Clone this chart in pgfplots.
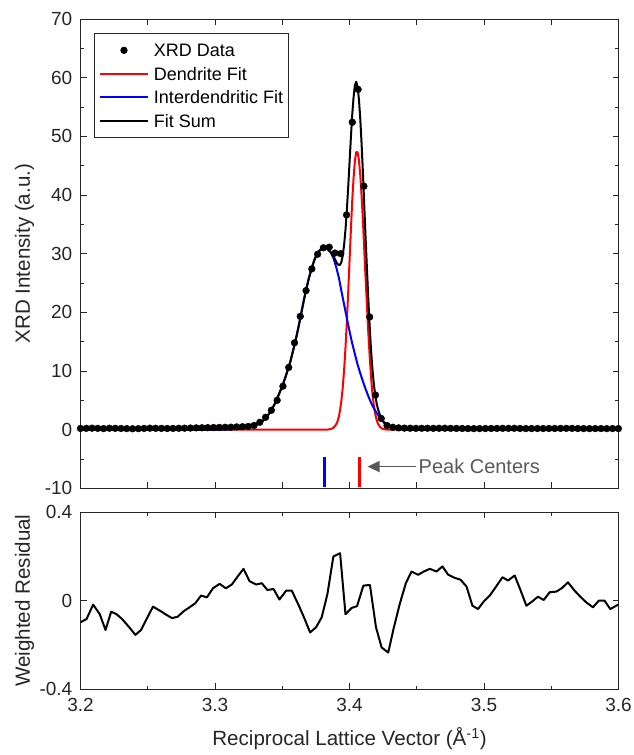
\documentclass[border=0pt]{standalone}
\usepackage{pgfplots}
\pgfplotsset{compat=1.18}
\usepackage{pgfplotstable}
\usepackage{fontspec}
\setmainfont{Liberation Sans}
\usetikzlibrary{arrows.meta}
\definecolor{axgray}{RGB}{38,38,38}
\definecolor{anngray}{RGB}{89,89,89}
\definecolor{mred}{RGB}{255,0,0}
\definecolor{mblue}{RGB}{0,0,255}
\pgfplotsset{
  dotlegend/.style={legend image code/.code={\draw[##1, mark repeat=2, mark phase=2] plot coordinates {(0pt,0pt) (24pt,0pt) (48pt,0pt)};}},
  linelegend/.style={legend image code/.code={\draw[##1] (0pt,0pt) -- (48pt,0pt);}},
}

\pgfplotstableread{
x y
3.2000 0.20
3.2043 0.22
3.2086 0.25
3.2129 0.22
3.2172 0.18
3.2215 0.24
3.2258 0.22
3.2301 0.20
3.2344 0.17
3.2387 0.15
3.2430 0.17
3.2473 0.21
3.2516 0.25
3.2559 0.23
3.2602 0.21
3.2645 0.20
3.2688 0.21
3.2731 0.23
3.2774 0.25
3.2817 0.27
3.2860 0.30
3.2903 0.32
3.2946 0.34
3.2989 0.36
3.3032 0.38
3.3075 0.40
3.3118 0.42
3.3161 0.46
3.3204 0.50
3.3247 0.55
3.3290 0.70
3.3333 1.25
3.3376 2.10
3.3419 3.30
3.3462 5.00
3.3505 7.40
3.3548 10.6
3.3591 14.8
3.3634 19.3
3.3677 23.7
3.3720 27.4
3.3763 29.9
3.3806 31.0
3.3849 31.1
3.3892 30.1
3.3935 30.0
3.3978 36.6
3.4021 52.4
3.4064 58.0
3.4107 41.5
3.4150 19.2
3.4193 5.9
3.4236 1.9
3.4279 0.70
3.4322 0.40
3.4365 0.30
3.4408 0.26
3.4451 0.24
3.4494 0.22
3.4537 0.23
3.4580 0.24
3.4623 0.22
3.4666 0.23
3.4709 0.24
3.4752 0.22
3.4795 0.21
3.4838 0.20
3.4881 0.18
3.4924 0.17
3.4967 0.18
3.5010 0.19
3.5053 0.20
3.5096 0.21
3.5139 0.22
3.5182 0.22
3.5225 0.23
3.5268 0.20
3.5311 0.18
3.5354 0.18
3.5397 0.19
3.5440 0.19
3.5483 0.20
3.5526 0.20
3.5569 0.21
3.5612 0.22
3.5655 0.21
3.5698 0.19
3.5741 0.18
3.5784 0.17
3.5827 0.18
3.5870 0.18
3.5913 0.17
3.5956 0.18
3.5999 0.18
}\xrddata

\pgfplotstableread{
x r b s
3.200 0 0 0
3.250 0 0 0
3.290 0 0 0
3.300 0 0.01 0.01
3.308 0 0.03 0.03
3.312 0 0.06 0.06
3.316 0 0.12 0.12
3.320 0 0.22 0.22
3.322 0 0.29 0.29
3.324 0 0.38 0.38
3.326 0 0.50 0.50
3.328 0 0.64 0.64
3.330 0 0.80 0.80
3.332 0 1.00 1.00
3.334 0 1.25 1.25
3.336 0 1.60 1.60
3.338 0 2.05 2.05
3.340 0 2.65 2.65
3.342 0 3.35 3.35
3.344 0 4.20 4.20
3.346 0 5.20 5.20
3.348 0 6.30 6.30
3.350 0 7.40 7.40
3.352 0 8.70 8.70
3.354 0 10.1 10.1
3.356 0 11.6 11.6
3.358 0 13.4 13.4
3.360 0 15.3 15.3
3.362 0 17.4 17.4
3.364 0 19.7 19.7
3.366 0 22.0 22.0
3.368 0 24.1 24.1
3.370 0 26.0 26.0
3.372 0 27.6 27.6
3.374 0 29.0 29.0
3.376 0 30.0 30.0
3.378 0 30.6 30.6
3.380 0 30.95 30.95
3.382 0 30.95 30.95
3.384 0.02 30.7 30.72
3.386 0.09 30.2 30.29
3.388 0.30 29.3 29.6
3.390 0.85 27.8 28.65
3.391 1.35 26.9 28.25
3.392 2.1 26.0 28.1
3.393 3.3 24.8 28.1
3.394 5.0 23.6 28.6
3.395 7.25 22.45 29.7
3.396 10.2 21.3 31.5
3.397 13.9 20.15 34.05
3.398 18.3 19.0 37.3
3.399 23.3 17.9 41.2
3.400 28.6 16.8 45.4
3.401 33.9 15.75 49.65
3.402 38.9 14.7 53.6
3.403 42.8 13.8 56.6
3.404 45.8 12.9 58.7
3.405 47.3 12.0 59.3
3.406 47.3 11.1 58.4
3.407 46.0 10.35 56.35
3.408 43.4 9.6 53.0
3.409 39.8 8.9 48.7
3.410 35.5 8.2 43.7
3.411 30.5 7.55 38.05
3.412 25.6 6.9 32.5
3.413 21.0 6.3 27.3
3.414 16.5 5.7 22.2
3.415 12.5 5.15 17.65
3.416 9.0 4.6 13.6
3.417 6.3 4.15 10.45
3.418 4.3 3.7 8.0
3.419 2.8 3.3 6.1
3.420 1.8 2.9 4.7
3.421 1.1 2.55 3.65
3.422 0.7 2.2 2.9
3.423 0.4 1.9 2.3
3.424 0.22 1.6 1.82
3.425 0.12 1.35 1.47
3.426 0.06 1.1 1.16
3.427 0.03 0.95 0.98
3.428 0.01 0.8 0.81
3.430 0 0.55 0.55
3.432 0 0.38 0.38
3.434 0 0.25 0.25
3.436 0 0.15 0.15
3.438 0 0.10 0.10
3.440 0 0.06 0.06
3.444 0 0.02 0.02
3.448 0 0 0
3.500 0 0 0
3.600 0 0 0
}\fitdata

\begin{document}
\begin{tikzpicture}
\path[use as bounding box] (0pt,0pt) rectangle (634pt,755pt);
\pgfplotsset{
  common/.style={
    scale only axis,
    xmin=3.2, xmax=3.6,
    axis line style={axgray, line width=0.6pt},
    every tick/.style={axgray, line width=0.6pt},
    tick align=inside,
    major tick length=6pt, minor tick length=3.5pt,
    tick label style={font=\fontsize{19}{22}\selectfont, text=axgray},
    xticklabel style={anchor=north, inner sep=0pt, yshift=-9pt},
    yticklabel style={anchor=east, inner sep=0pt, xshift=-8pt},
    label style={font=\fontsize{20.6}{24}\selectfont, text=axgray},
    /pgf/number format/assume math mode=true,
  },
}
% ---------------- top panel ----------------
\begin{axis}[common,
  at={(80.5pt,266.7pt)}, anchor=south west,
  width=538pt, height=469.3pt,
  ymin=-10, ymax=70,
  ytick={-10,0,10,20,30,40,50,60,70},
  yticklabels={-10,0,10,20,30,40,50,60,70},
  minor y tick num=1,
  xtick={3.2,3.25,3.3,3.35,3.4,3.45,3.5,3.55,3.6},
  xticklabels={},
  ylabel={XRD Intensity (a.u.)},
  ylabel style={at={(axis description cs:-0.1039,0.5)}, anchor=center},
  legend cell align=left,
  linelegend,
  legend style={at={(axis description cs:0.0245,0.9691)}, anchor=north west,
    draw=axgray, line width=0.6pt, fill=white,
    font=\fontsize{18}{21}\selectfont, text=black,
    inner xsep=5pt, inner ysep=10pt, row sep=10.5pt, column sep=5pt,
    nodes={inner sep=0pt, text height=13pt, text depth=0pt}},
]
\addlegendimage{only marks, mark=*, mark size=3.3pt, black, dotlegend}
\addlegendentry{XRD Data}
\addlegendimage{mred, line width=2pt}
\addlegendentry{Dendrite Fit}
\addlegendimage{mblue, line width=2pt}
\addlegendentry{Interdendritic Fit}
\addlegendimage{black, line width=2pt}
\addlegendentry{Fit Sum}

\addplot[mred, line width=2pt, line join=round, forget plot] table[x=x, y=r] {\fitdata};
\addplot[mblue, line width=2pt, line join=round, forget plot] table[x=x, y=b] {\fitdata};
\addplot[black, line width=2pt, line join=round, forget plot] table[x=x, y=s] {\fitdata};
\addplot[only marks, mark=*, mark size=3.4pt, black, forget plot] table[x=x, y=y] {\xrddata};

% peak centre markers
\addplot[mblue, line width=3pt, forget plot] coordinates {(3.3812,-9.7) (3.3812,-4.6)};
\addplot[mred, line width=3pt, forget plot] coordinates {(3.4072,-9.7) (3.4072,-4.6)};
\draw[anngray, line width=1.3pt, -{Triangle[length=12pt,width=11pt]}]
  (axis cs:3.4496,-6.3) -- (axis cs:3.4134,-6.3);
\node[anngray, anchor=west, inner sep=0pt, font=\fontsize{20}{24}\selectfont]
  at (axis cs:3.4513,-6.3) {Peak Centers};
\end{axis}
% ---------------- bottom panel ----------------
\begin{axis}[common,
  at={(80.5pt,66pt)}, anchor=south west,
  width=538pt, height=176.7pt,
  ymin=-0.4, ymax=0.4,
  ytick={-0.4,0,0.4},
  yticklabels={-0.4,0,0.4},
  xtick={3.2,3.3,3.4,3.5,3.6},
  xticklabels={3.2,3.3,3.4,3.5,3.6},
  minor xtick={3.25,3.35,3.45,3.55},
  xlabel={Reciprocal Lattice Vector (Å\textsuperscript{-1})},
  xlabel style={at={(axis description cs:0.5,-0.322)}, anchor=base},
  ylabel={Weighted Residual},
  ylabel style={at={(axis description cs:-0.1039,0.5)}, anchor=center},
]
\addplot[black, line width=2pt, line join=round] coordinates {
(3.2000,-0.098) (3.2045,-0.083) (3.2094,-0.018) (3.2143,-0.061) (3.2186,-0.133)
(3.2228,-0.050) (3.2267,-0.061) (3.2309,-0.083) (3.2359,-0.118) (3.2408,-0.155)
(3.2450,-0.133) (3.2495,-0.079) (3.2539,-0.027) (3.2589,-0.045) (3.2638,-0.064)
(3.2680,-0.079) (3.2722,-0.073) (3.2767,-0.048) (3.2811,-0.030) (3.2853,-0.012)
(3.2896,0.023) (3.2940,0.015) (3.2985,0.056) (3.3034,0.076) (3.3081,0.056)
(3.3125,0.073) (3.3168,0.109) (3.3212,0.144) (3.3257,0.088) (3.3306,0.073)
(3.3348,0.079) (3.3390,0.048) (3.3435,0.053) (3.3479,0.005) (3.3529,0.045)
(3.3571,0.045) (3.3620,-0.018) (3.3662,-0.076) (3.3707,-0.144) (3.3751,-0.121)
(3.3793,-0.076) (3.3836,0.030) (3.3880,0.200) (3.3930,0.215) (3.3970,-0.061)
(3.4016,-0.033) (3.4056,-0.025) (3.4103,0.068) (3.4152,0.071) (3.4197,-0.121)
(3.4239,-0.212) (3.4288,-0.235) (3.4330,-0.121) (3.4375,-0.012) (3.4419,0.079)
(3.4461,0.132) (3.4510,0.117) (3.4553,0.132) (3.4597,0.144) (3.4647,0.132)
(3.4691,0.155) (3.4733,0.118) (3.4783,0.103) (3.4825,0.095) (3.4870,0.064)
(3.4914,-0.023) (3.4956,-0.038) (3.4999,-0.003) (3.5043,0.023) (3.5087,0.061)
(3.5137,0.106) (3.5179,0.091) (3.5228,0.114) (3.5271,0.048) (3.5315,-0.023)
(3.5360,-0.003) (3.5401,0.018) (3.5444,0.003) (3.5488,0.038) (3.5538,0.041)
(3.5582,0.058) (3.5624,0.083) (3.5674,0.045) (3.5716,0.018) (3.5761,-0.008)
(3.5810,-0.030) (3.5854,0.000) (3.5896,0.000) (3.5939,-0.038) (3.5983,-0.023)
(3.6000,-0.018)
};
\end{axis}
\end{tikzpicture}
\end{document}
